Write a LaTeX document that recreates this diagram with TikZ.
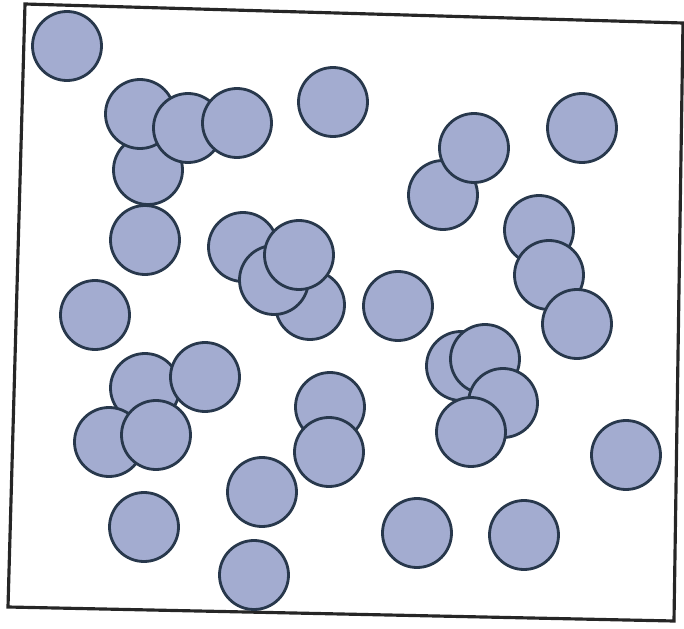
\documentclass[tikz,border=0pt]{standalone}
\usepackage{tikz}
\usetikzlibrary{calc}
\definecolor{discfill}{RGB}{163,172,208}
\definecolor{discline}{RGB}{40,56,76}

\begin{document}
\begin{tikzpicture}[x=0.02cm,y=-0.02cm,
  disc/.style={fill=discfill,draw=discline,line width=1.6pt},
  frame/.style={draw=black!85,line width=1.8pt,line join=miter}]
\useasboundingbox (0,0) rectangle (684,629);
% Slightly tilted frame of the box
\coordinate (tl) at (25,4);
\coordinate (tr) at (683,23);
\coordinate (br) at (674,621);
\coordinate (bl) at (8,607);
\draw[frame] (tl) -- (tr) -- (br) -- (bl) -- cycle;
% Discs, listed from back to front
\foreach \x/\y in {67/46, 148/170, 140/114, 188/128, 237/123, 333/102,
    443/195, 474/148, 582/128, 145/240, 243/247, 310/305, 274/280, 299/255,
    95/315, 398/306, 539/230, 549/275, 577/324, 145/388, 205/377, 109/442,
    156/435, 330/407, 329/452, 461/366, 485/359, 503/403, 471/432, 626/455,
    262/492, 144/527, 417/533, 524/535, 254/575}{
    \draw[disc] (\x,\y) circle (34.5);
}
\end{tikzpicture}
\end{document}
